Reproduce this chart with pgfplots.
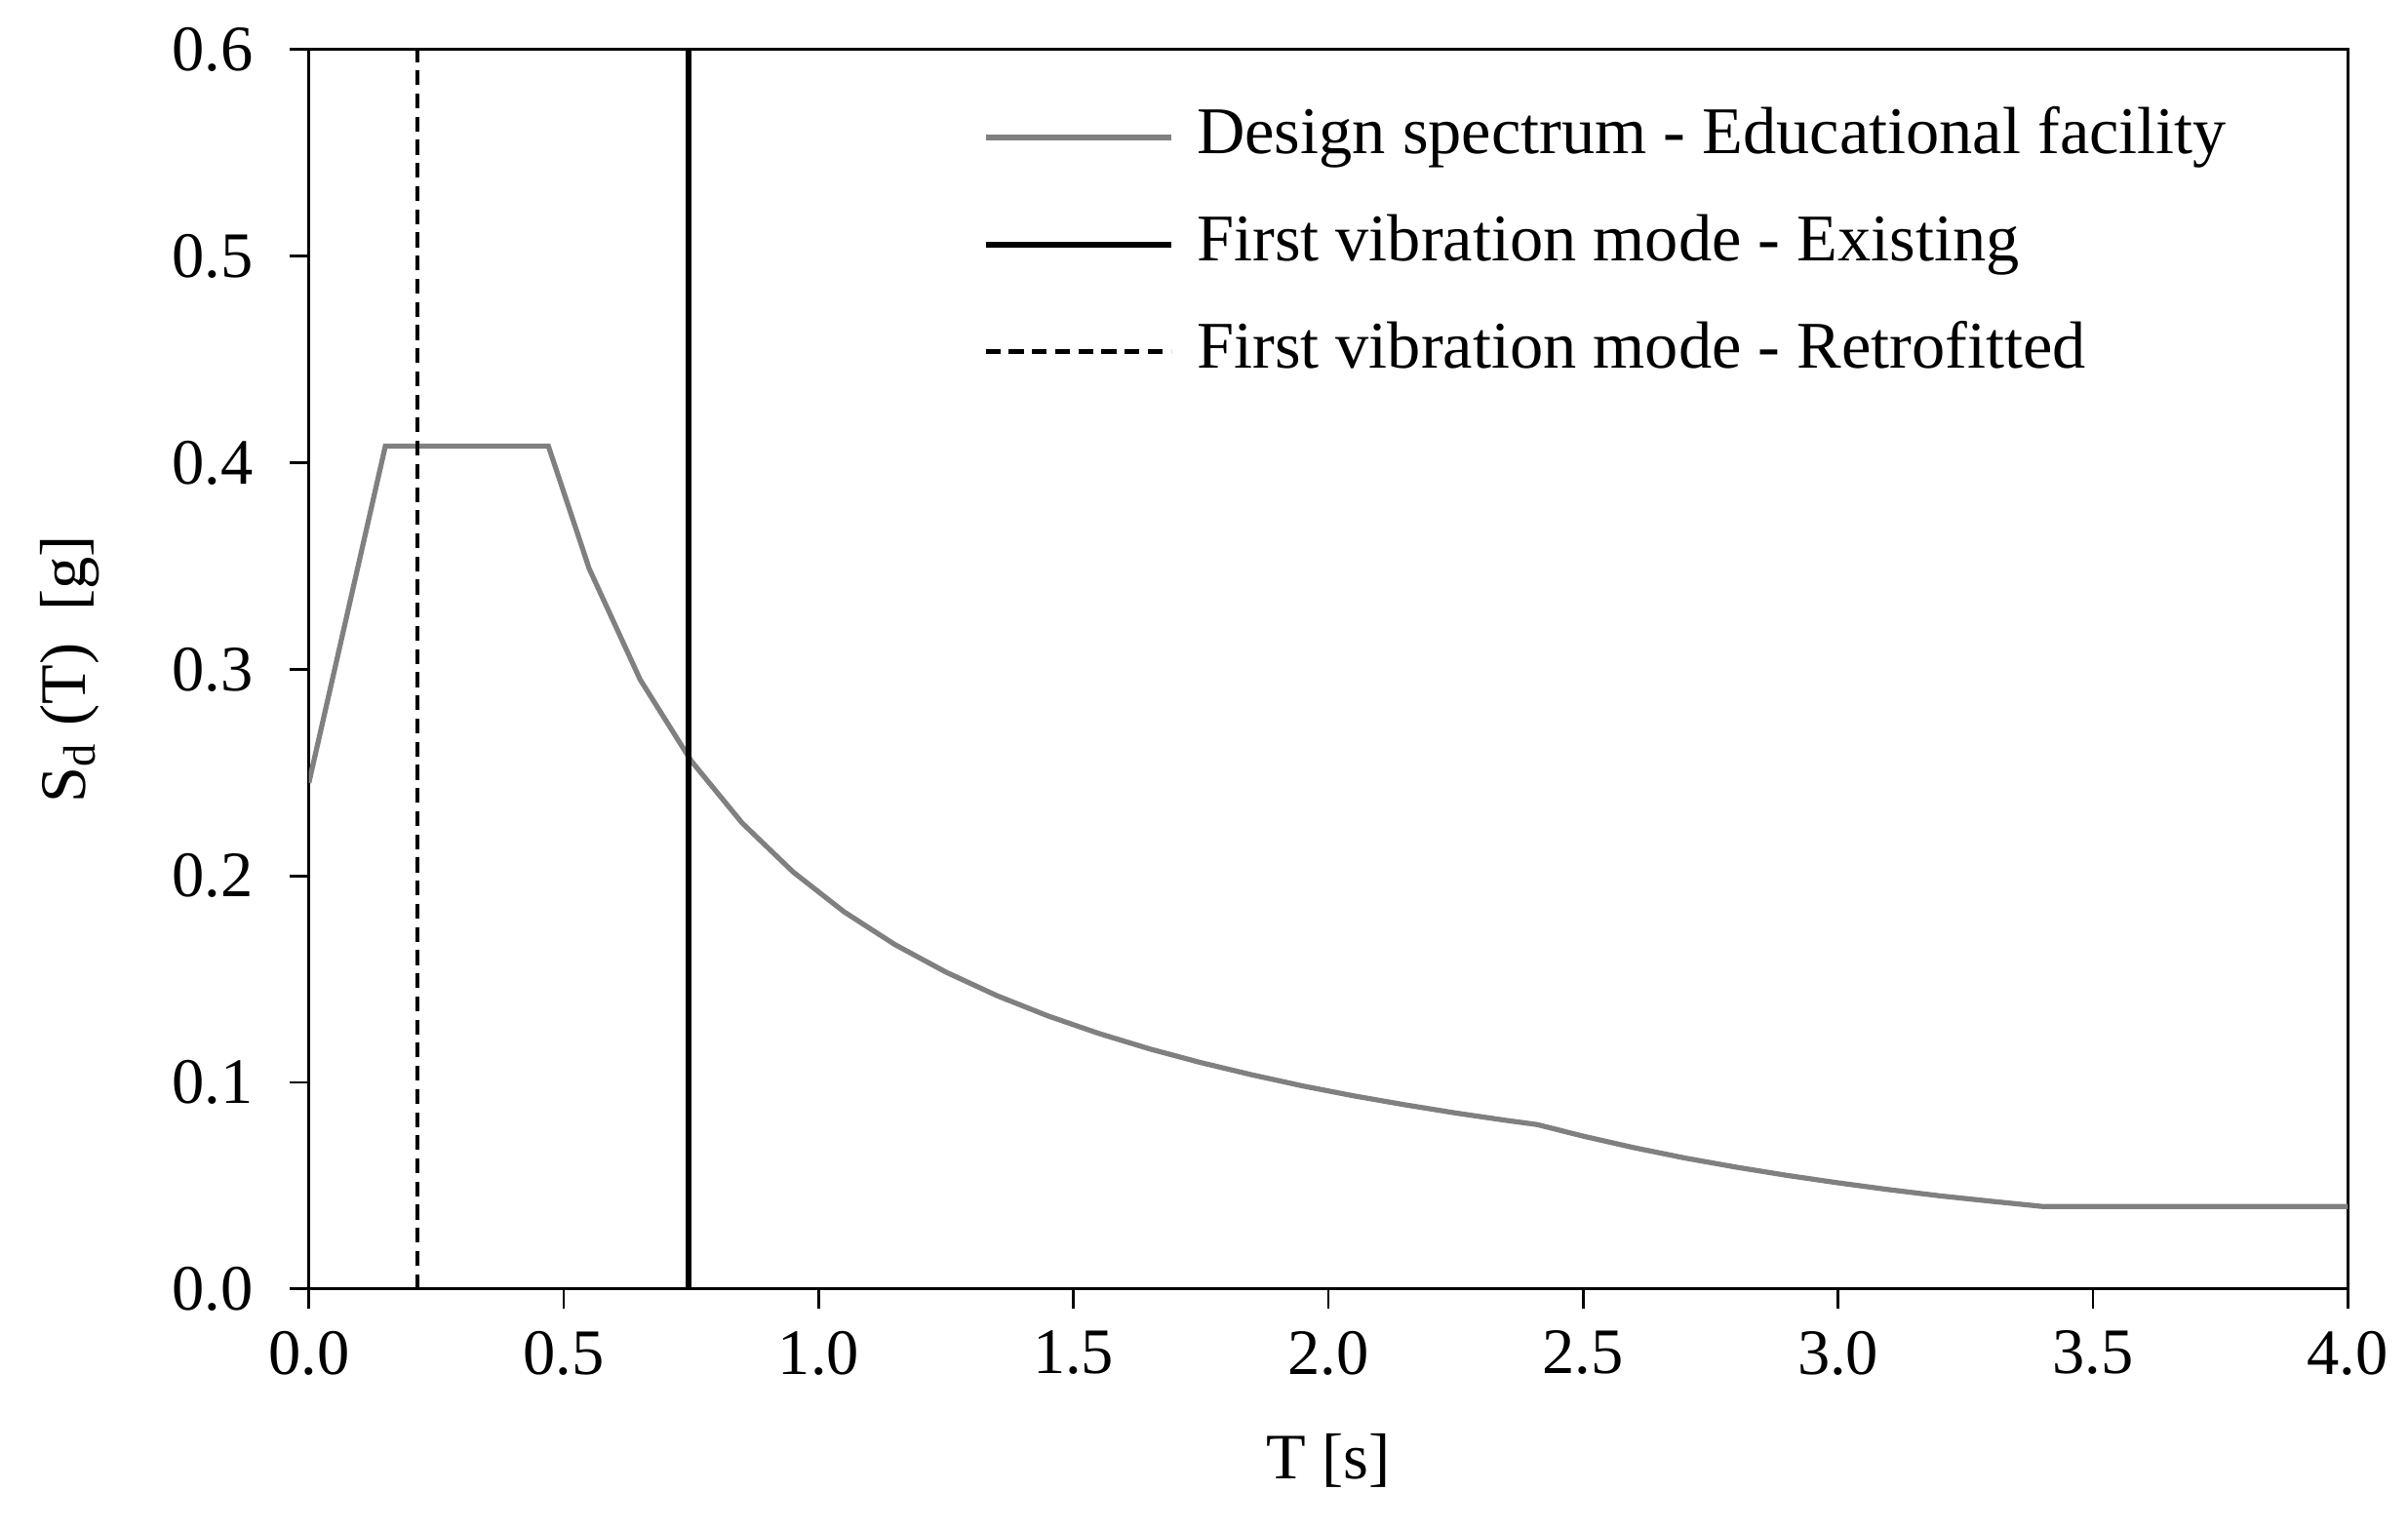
\documentclass[border=0pt]{standalone}
\usepackage{fontspec}
\setmainfont{Liberation Serif}
\usepackage{pgfplots}
\pgfplotsset{compat=1.18}
\definecolor{specgray}{RGB}{128,128,128}
\begin{document}
\fontsize{14}{16.8}\selectfont
\begin{tikzpicture}
\useasboundingbox (-66.7pt,-52pt) rectangle (453.3pt,278.4pt);
\begin{axis}[
  at={(0,0)}, anchor=south west,
  scale only axis, width=440.3pt, height=267.7pt,
  xmin=0, xmax=4, ymin=0, ymax=0.6,
  xtick={0,0.5,1,1.5,2,2.5,3,3.5,4},
  ytick={0,0.1,0.2,0.3,0.4,0.5,0.6},
  tick align=outside, tick pos=left, major tick length=4.2pt,
  axis line style={line width=0.6pt},
  every tick/.style={black, line width=0.6pt},
  /pgf/number format/assume math mode=true,
  /pgf/number format/.cd, fixed, fixed zerofill, precision=1, /pgfplots/.cd,
  tick label style={font=\fontsize{14}{16.8}\selectfont},
  yticklabel style={xshift=-3pt},
  label style={font=\fontsize{14}{16.8}\selectfont},
  xlabel={T [s]},
  ylabel={S\textsubscript{d} (T)\ \ [g]},
  every axis x label/.style={at={(axis description cs:0.5,0)}, anchor=center, yshift=-37pt},
  every axis y label/.style={at={(axis description cs:0,0.5)}, rotate=90, anchor=center, yshift=51.7pt},
  legend cell align=left,
  legend image code/.code={\draw[#1] (0pt,0pt) -- (40pt,0pt);},
  legend style={at={(1,1)}, anchor=north east, xshift=-26pt, yshift=-10.3pt,
    draw=none, fill=none, inner sep=0pt, row sep=6.1pt,
    font=\fontsize{14.4}{17}\selectfont,
    nodes={inner xsep=0pt, inner ysep=2pt, text height=10pt, text depth=3pt},
    /tikz/every odd column/.append style={column sep=5pt}},
]
\addplot[specgray, line width=1.1pt] coordinates {
(0,0.245) (0.15,0.408) (0.47,0.408) (0.55,0.3487) (0.65,0.295) (0.75,0.2557)
(0.85,0.2256) (0.95,0.2019) (1.05,0.1826) (1.15,0.1667) (1.25,0.1534)
(1.35,0.142) (1.45,0.1322) (1.55,0.1237) (1.65,0.1162) (1.75,0.1096)
(1.85,0.1037) (1.95,0.0983) (2.05,0.0935) (2.15,0.0892) (2.25,0.0852)
(2.35,0.0816) (2.41,0.0796) (2.5,0.074) (2.6,0.0684) (2.7,0.0634)
(2.8,0.059) (2.9,0.055) (3.0,0.0514) (3.1,0.0481) (3.2,0.0451)
(3.3,0.0425) (3.4,0.04) (4.0,0.04)};
\addlegendentry{Design spectrum - Educational facility}
\addplot[black, line width=1.2pt] coordinates {(0.745,0) (0.745,0.6)};
\addlegendentry{First vibration mode - Existing}
\addplot[black, line width=0.9pt, dash pattern=on 3.2pt off 1.8pt] coordinates {(0.213,0) (0.213,0.6)};
\addlegendentry{First vibration mode - Retrofitted}
\end{axis}
\end{tikzpicture}
\end{document}
